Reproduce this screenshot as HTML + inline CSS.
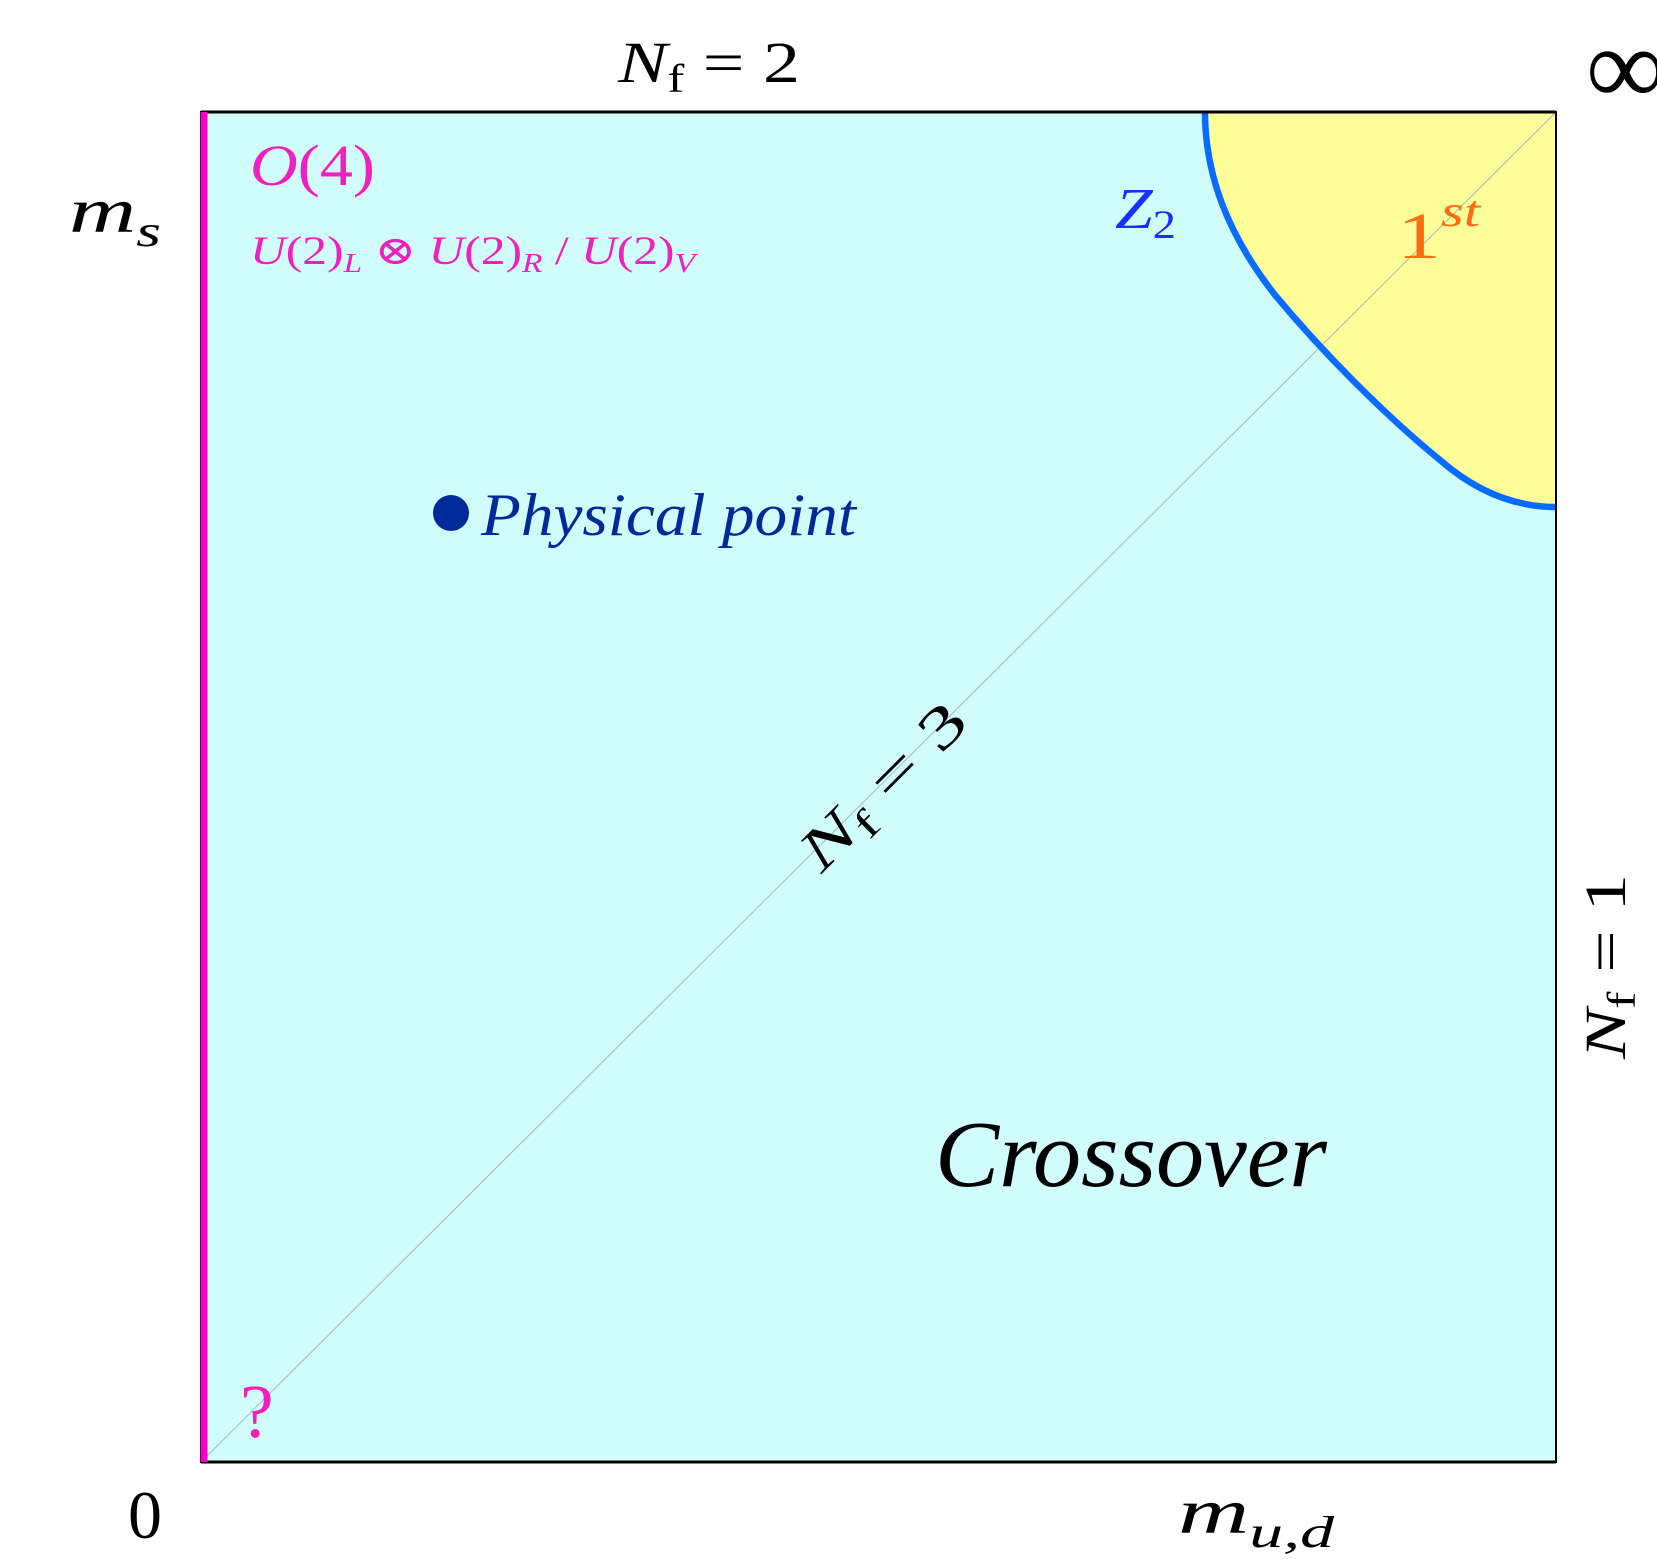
<!DOCTYPE html>
<html><head><meta charset="utf-8"><style>
html,body{margin:0;padding:0;background:#fff;}
svg{display:block}
text{font-family:"Liberation Serif","DejaVu Serif",serif;}
</style></head><body>
<svg width="1657" height="1559" viewBox="0 0 1657 1559" xmlns="http://www.w3.org/2000/svg">
<rect x="201" y="112" width="1355" height="1350" fill="#d0fcfc"/>
<path d="M1205,112 C1205,175 1228,235 1275,295 C1325,355 1385,415 1440,460 C1480,495 1520,507 1556,507 L1556,112 Z" fill="#ffff99"/>
<line x1="201" y1="1462" x2="1556" y2="112" stroke="#a8b8b8" stroke-width="1"/>
<path d="M1205,112 C1205,175 1228,235 1275,295 C1325,355 1385,415 1440,460 C1480,495 1520,507 1556,507" fill="none" stroke="#0a6cff" stroke-width="6.5"/>
<rect x="201" y="112" width="1355" height="1350" fill="none" stroke="#000" stroke-width="2"/>
<line x1="201" y1="112" x2="1556" y2="112" stroke="#000" stroke-width="3"/>
<line x1="201" y1="1462" x2="1556" y2="1462" stroke="#000" stroke-width="3"/>
<line x1="204" y1="112" x2="204" y2="1462" stroke="#f000c8" stroke-width="7"/>
<text x="618" y="82" font-size="58" font-style="italic" textLength="182" lengthAdjust="spacingAndGlyphs">N<tspan font-style="normal" font-size="40" dy="10">f</tspan><tspan font-style="normal" font-size="58" dy="-10"> = 2</tspan></text>
<text x="1586" y="104" font-size="110">∞</text>
<text x="69" y="232" font-size="64" font-style="italic" textLength="92" lengthAdjust="spacingAndGlyphs">m<tspan font-size="44" dy="14">s</tspan></text>
<text x="250" y="185" font-size="58" fill="#f020c0" textLength="125" lengthAdjust="spacingAndGlyphs"><tspan font-style="italic">O</tspan>(4)</text>
<text x="250" y="264" font-size="40" fill="#f020c0" textLength="445" lengthAdjust="spacingAndGlyphs"><tspan font-style="italic">U</tspan>(2)<tspan font-style="italic" font-size="27" dy="8">L</tspan><tspan dy="-8"> ⊗ </tspan><tspan font-style="italic">U</tspan>(2)<tspan font-style="italic" font-size="27" dy="8">R</tspan><tspan dy="-8"> / </tspan><tspan font-style="italic">U</tspan>(2)<tspan font-style="italic" font-size="27" dy="8">V</tspan></text>
<text x="1115" y="228" font-size="58" font-style="italic" fill="#1530ff" textLength="61" lengthAdjust="spacingAndGlyphs">Z<tspan font-style="normal" font-size="40" dy="10">2</tspan></text>
<text x="1397" y="258" font-size="66" fill="#ff6a10" textLength="83" lengthAdjust="spacingAndGlyphs">1<tspan font-style="italic" font-size="44" dy="-32">st</tspan></text>
<circle cx="451" cy="513" r="18" fill="#002a99"/>
<text x="481" y="535" font-size="60" font-style="italic" fill="#002a99" textLength="375" lengthAdjust="spacingAndGlyphs">Physical point</text>
<text transform="translate(883,787) rotate(-45)" x="-105" y="18" font-size="58" font-style="italic" textLength="211" lengthAdjust="spacingAndGlyphs">N<tspan font-style="normal" font-size="40" dy="10">f</tspan><tspan font-style="normal" font-size="58" dy="-10"> = 3</tspan></text>
<text x="935" y="1186" font-size="94" font-style="italic" textLength="392" lengthAdjust="spacingAndGlyphs">Crossover</text>
<text transform="translate(1607,967) rotate(-90)" x="-92" y="18" font-size="58" font-style="italic" textLength="185" lengthAdjust="spacingAndGlyphs">N<tspan font-style="normal" font-size="40" dy="10">f</tspan><tspan font-style="normal" font-size="58" dy="-10"> = 1</tspan></text>
<text x="240" y="1437" font-size="76" fill="#f020c0">?</text>
<text x="128" y="1538" font-size="68">0</text>
<text x="1178" y="1533" font-size="64" font-style="italic" textLength="156" lengthAdjust="spacingAndGlyphs">m<tspan font-size="44" dy="14">u,d</tspan></text>
</svg>
</body></html>
